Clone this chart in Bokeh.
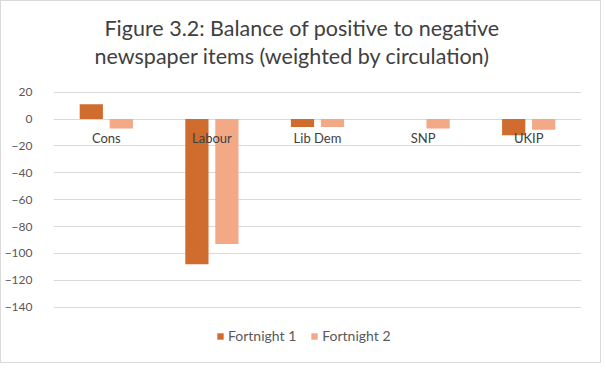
from bokeh.plotting import figure
from bokeh.models import ColumnDataSource, FactorRange, FixedTicker, Legend, LegendItem, Range1d, Title
from bokeh.transform import dodge
from bokeh.core.properties import value
from bokeh.embed import file_html
from bokeh.resources import INLINE

categories = ["Cons", "Labour", "Lib Dem", "SNP", "UKIP"]
fortnight1 = [11, -108, -6, 0, -12]
fortnight2 = [-7, -93, -6, -7, -8]
y_ticks = [20, 0, -20, -40, -60, -80, -100, -120, -140]
series_names = ["Fortnight 1", "Fortnight 2"]
title_line1 = "Figure 3.2: Balance of positive to negative"
title_line2 = "newspaper items (weighted by circulation)"

FONT = "Lato"
C1 = "#D06C2E"
C2 = "#F3A886"

src = ColumnDataSource(dict(cat=categories, f1=fortnight1, f2=fortnight2,
                            base=[0] * len(categories)))

p = figure(x_range=FactorRange(*categories, range_padding=0),
           y_range=Range1d(-175.9, 37.6),
           width=601, height=363, output_backend="svg", toolbar_location=None,
           min_border_left=50, min_border_right=21, min_border_top=67, min_border_bottom=9)

r1 = p.vbar(x=dodge("cat", -0.142, range=p.x_range), top="f1", bottom="base", width=0.22,
            source=src, fill_color=C1, line_color=None)
r2 = p.vbar(x=dodge("cat", 0.142, range=p.x_range), top="f2", bottom="base", width=0.22,
            source=src, fill_color=C2, line_color=None)

p.text(x="cat", y="base", text="cat", source=src, y_offset=19,
       text_align="center", text_baseline="middle",
       text_font=value(FONT), text_font_size="13px", text_color="#404040")

# first title line (outermost)
p.title.text = title_line1
p.title.align = "left"
p.title.offset = 51
p.title.standoff = 0
p.title.text_font = FONT
p.title.text_font_size = "21.5px"
p.title.text_font_style = "normal"
p.title.text_color = "#404040"

# second title line (nearest the plot)
t2 = Title(text=title_line2, align="left", offset=41, standoff=0,
           text_font=FONT, text_font_size="21.5px", text_font_style="normal",
           text_color="#404040")
p.add_layout(t2, "above")

p.xaxis.visible = False
p.xgrid.visible = False
p.yaxis.ticker = FixedTicker(ticks=y_ticks)
p.yaxis.axis_line_color = None
p.yaxis.major_tick_line_color = None
p.yaxis.minor_tick_line_color = None
p.yaxis.major_label_standoff = 15
p.yaxis.major_label_text_font = FONT
p.yaxis.major_label_text_font_size = "12px"
p.yaxis.major_label_text_color = "#595959"
p.ygrid.ticker = FixedTicker(ticks=y_ticks)
p.ygrid.grid_line_color = "#D9D9D9"
p.outline_line_color = None
p.styles = {"border": "1px solid #D9D9D9"}

legend = Legend(items=[LegendItem(label=series_names[0], renderers=[r1]),
                       LegendItem(label=series_names[1], renderers=[r2])],
                orientation="horizontal", location=(163, 11),
                glyph_width=8, glyph_height=8, label_height=14, label_standoff=4,
                spacing=14, padding=0, margin=0, border_line_color=None,
                background_fill_alpha=0,
                label_text_font=FONT, label_text_font_size="14px", label_text_color="#595959")
p.add_layout(legend, "center")

open("out.html", "w").write(file_html(p, INLINE))
